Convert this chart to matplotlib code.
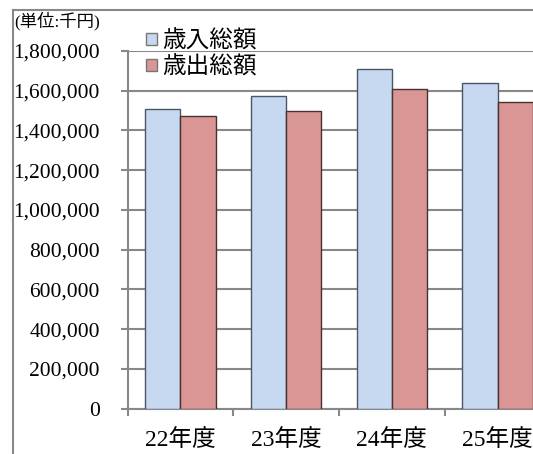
import numpy as np
import matplotlib
matplotlib.use("Agg")
import matplotlib.pyplot as plt
from matplotlib.lines import Line2D
from matplotlib.ticker import FuncFormatter

# data (千円)
categories = ["22年度", "23年度", "24年度", "25年度"]
revenue = [1510000, 1575000, 1708000, 1637000]      # 歳入総額
expenditure = [1473000, 1500000, 1607000, 1542000]  # 歳出総額
series_labels = ["歳入総額", "歳出総額"]
yticks = np.arange(0, 1800001, 200000)

W, H = 533, 454
fonts = ["Liberation Serif", "Noto Sans CJK JP", "DejaVu Sans"]
plt.rcParams["font.family"] = fonts

fig = plt.figure(figsize=(W / 100, H / 100), dpi=100)
# plot area runs past the right edge of the picture, as in the original
ax = fig.add_axes([127.5 / W, 45.5 / H, 423 / W, 357.5 / H])

x = np.arange(len(categories))
bw = 0.334
ax.bar(x - bw / 2, revenue, bw, color="#C6D9F1", edgecolor="#4a5566",
       linewidth=1.0, label=series_labels[0], zorder=3)
ax.bar(x + bw / 2, expenditure, bw, color="#D99694", edgecolor="#4a3030",
       linewidth=1.0, label=series_labels[1], zorder=3)

ax.set_xlim(-0.5, len(categories) - 0.5)
ax.set_ylim(0, 1800000)
ax.set_yticks(yticks)
ax.yaxis.set_major_formatter(FuncFormatter(lambda v, p: f"{int(v):,}"))
ax.grid(axis="y", color="#888888", linewidth=1.5, zorder=0)
ax.set_axisbelow(True)

ax.set_xticks(x)
ax.set_xticklabels(categories, fontsize=17)
ax.set_xticks(np.arange(-0.5, len(categories)), minor=True)
ax.tick_params(axis="x", which="major", length=0, pad=15, colors="black")
ax.tick_params(axis="x", which="minor", length=5, width=1.5, color="#888888")
ax.tick_params(axis="y", length=5, width=1.5, color="#888888", pad=15,
               labelsize=15.5)

for s in ["top", "right"]:
    ax.spines[s].set_visible(False)
for s in ["left", "bottom"]:
    ax.spines[s].set_color("#888888")
    ax.spines[s].set_linewidth(1.5)

leg = ax.legend(loc="upper left", bbox_to_anchor=(146 / W, 1 - 30 / H),
                bbox_transform=fig.transFigure, frameon=False, fontsize=17,
                handlelength=0.45, handleheight=0.45, handletextpad=0.25,
                labelspacing=0.15, borderpad=0, borderaxespad=0)
for h in leg.legend_handles:
    h.set_edgecolor("#777777")

fig.text(14 / W, 1 - 21 / H, "(単位:千円)", fontsize=12.5, va="center",
         ha="left")

# outer chart frame (left and top edges)
fig.add_artist(Line2D([12.5 / W, 12.5 / W], [0, 1 - 10 / H],
                      transform=fig.transFigure, color="#888888", lw=1.5))
fig.add_artist(Line2D([12.5 / W, 1], [1 - 10 / H, 1 - 10 / H],
                      transform=fig.transFigure, color="#888888", lw=1.5))

fig.savefig("out.png", dpi=100)
